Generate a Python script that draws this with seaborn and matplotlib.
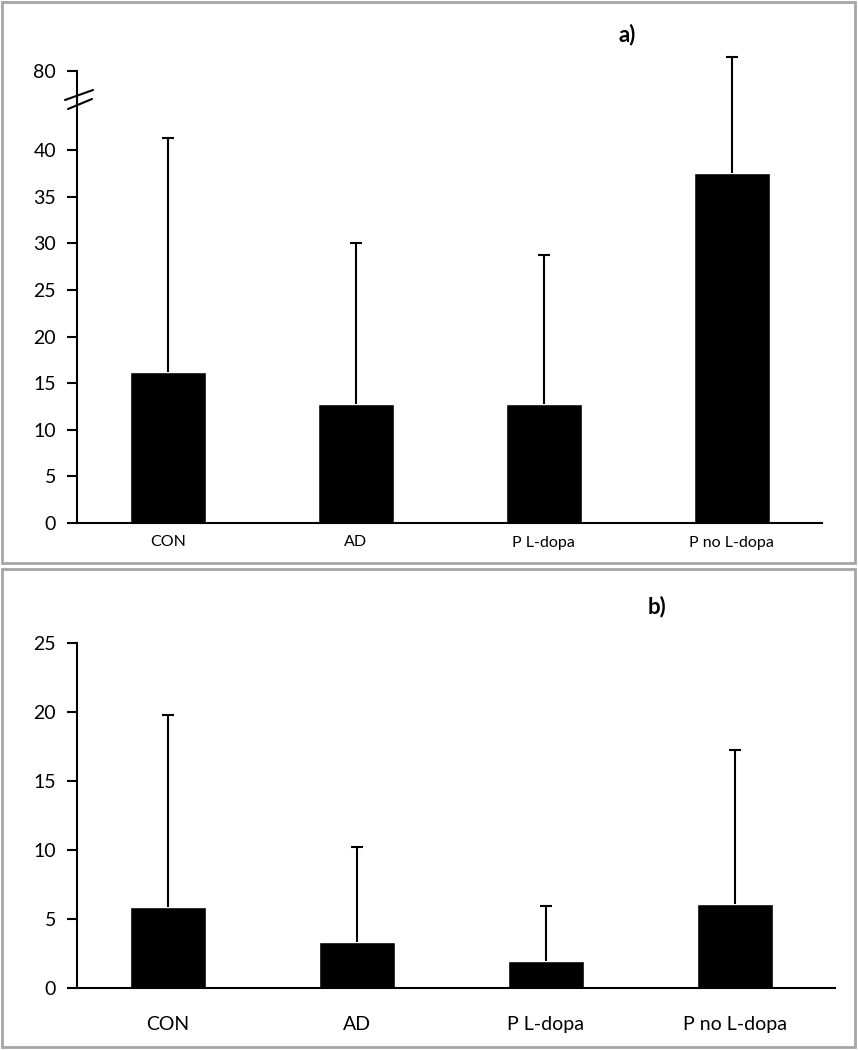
import numpy as np
import pandas as pd
import matplotlib
matplotlib.use("Agg")
import matplotlib.pyplot as plt
from matplotlib.patches import Rectangle
import seaborn as sns

# ---- data ----
groups = ["CON", "AD", "P L-dopa", "P no L-dopa"]
mean_a = [16.2, 12.8, 12.8, 37.6]
sd_a = [25.1, 17.2, 16.0, 57.4]
mean_b = [5.9, 3.35, 1.95, 6.1]
sd_b = [13.9, 6.85, 4.0, 11.15]
yticks_a = [0, 5, 10, 15, 20, 25, 30, 35, 40, 80]
yticks_b = [0, 5, 10, 15, 20, 25]

sns.set_theme(style="white")
plt.rcParams["font.family"] = ["Lato", "DejaVu Sans"]

fig = plt.figure(figsize=(8.58, 10.5), dpi=100)

# panel frames (grey boxes)
W, H = 858.0, 1050.0
def frame(x0, y0, x1, y1):
    fig.patches.append(Rectangle((x0 / W, 1 - y1 / H), (x1 - x0) / W, (y1 - y0) / H,
                                 transform=fig.transFigure, fill=False,
                                 edgecolor="#a6a6a6", linewidth=2.0))
frame(2, 2, 855, 563)
frame(2, 569, 855, 1047)

# broken axis scale for panel a (linear to the break, compressed above)
BREAK = 45.0
K = 0.1
def fwd(v):
    v = np.asarray(v, dtype=float)
    return np.where(v <= BREAK, v, BREAK + (v - BREAK) * K)
def inv(p):
    p = np.asarray(p, dtype=float)
    return np.where(p <= BREAK, p, BREAK + (p - BREAK) / K)

def style_axes(ax):
    sns.despine(ax=ax, top=True, right=True)
    for s in ("left", "bottom"):
        ax.spines[s].set_color("black")
        ax.spines[s].set_linewidth(1.5)
    ax.tick_params(axis="y", direction="out", length=7, width=1.5, color="black",
                   left=True, pad=8, labelsize=14, labelcolor="black")
    ax.set_xlabel("")
    ax.set_ylabel("")

def up_errors(ax, means, sds):
    n = len(means)
    _, caps, _ = ax.errorbar(np.arange(n), means, yerr=[np.zeros(n), sds],
                             fmt="none", ecolor="black", elinewidth=1.5,
                             capsize=4.5, capthick=1.5, clip_on=False, zorder=3)
    caps[0].set_visible(False)

# ---- panel a ----
ax1 = fig.add_axes([77 / W, 1 - 523 / H, (822 - 77) / W, (523 - 71) / H])
df_a = pd.DataFrame({"group": groups, "value": mean_a})
sns.barplot(data=df_a, x="group", y="value", color="black", saturation=1,
            width=0.404, ax=ax1, errorbar=None)
ax1.set_yscale("function", functions=(fwd, inv))
up_errors(ax1, mean_a, sd_a)
ax1.set_ylim(0, 80)
ax1.set_xlim(-0.484, 3.48)
ax1.set_yticks(yticks_a)
ax1.set_yticklabels([str(t) for t in yticks_a])
style_axes(ax1)
ax1.tick_params(axis="x", bottom=False, length=0, pad=9, labelsize=11.5, labelcolor="black")
# axis break marks
def px2ax(x, y):
    return ((x - 77) / (822 - 77), (523 - y) / (523 - 71))
for (xa, ya, xb, yb) in [(65, 100, 93, 90), (68, 109, 92, 99)]:
    p0 = px2ax(xa, ya)
    p1 = px2ax(xb, yb)
    ax1.plot([p0[0], p1[0]], [p0[1], p1[1]], color="black", lw=1.5,
             transform=ax1.transAxes, clip_on=False)
fig.text(627 / W, 1 - 35 / H, "a)", fontsize=16, fontweight="bold",
         ha="center", va="center", color="black")

# ---- panel b ----
ax2 = fig.add_axes([77 / W, 1 - 988 / H, (835 - 77) / W, (988 - 643) / H])
df_b = pd.DataFrame({"group": groups, "value": mean_b})
sns.barplot(data=df_b, x="group", y="value", color="black", saturation=1,
            width=0.4, ax=ax2, errorbar=None)
up_errors(ax2, mean_b, sd_b)
ax2.set_ylim(0, 25)
ax2.set_xlim(-0.48, 3.53)
ax2.set_yticks(yticks_b)
ax2.set_yticklabels([str(t) for t in yticks_b])
style_axes(ax2)
ax2.tick_params(axis="x", bottom=False, length=0, pad=20, labelsize=14, labelcolor="black")
fig.text(657 / W, 1 - 607 / H, "b)", fontsize=16, fontweight="bold",
         ha="center", va="center", color="black")

fig.savefig("out.png", dpi=100)
